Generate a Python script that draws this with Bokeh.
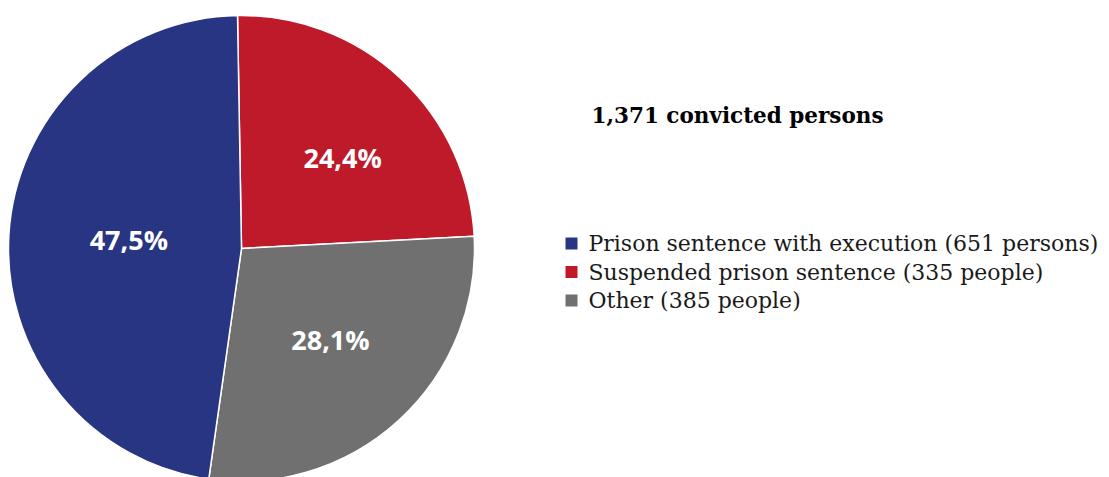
import numpy as np
from bokeh.plotting import figure
from bokeh.models import Range1d, ColumnDataSource
from bokeh.core.properties import value
from bokeh.embed import file_html
from bokeh.resources import INLINE

# ---- data ----
categories = ["Suspended prison sentence (335 people)",
              "Other (385 people)",
              "Prison sentence with execution (651 persons)"]
counts = [335, 385, 651]
pct_labels = ["24,4%", "28,1%", "47,5%"]
colors = ["#BE1A29", "#707070", "#283583"]
title_text = "1,371 convicted persons"

legend_order = [2, 0, 1]  # blue, red, gray

W, H = 1109, 477
p = figure(width=W, height=H, output_backend="svg", toolbar_location=None,
           x_range=Range1d(0, W), y_range=Range1d(0, H), min_border=0)
p.axis.visible = False
p.grid.visible = False
p.outline_line_color = None
p.background_fill_color = "white"

cx, cy, r = 241, H - 248, 233
start0 = np.deg2rad(90.98)
fr = np.array(counts, dtype=float) / sum(counts)
ang = 2 * np.pi * fr
ends_cum = np.cumsum(ang)
starts = start0 - np.concatenate([[0], ends_cum[:-1]])
ends = start0 - ends_cum

src = ColumnDataSource(dict(start=starts, end=ends, color=colors))
p.wedge(x=cx, y=cy, radius=r, start_angle="start", end_angle="end",
        direction="clock", fill_color="color", line_color="white",
        line_width=1.5, source=src)

# labels (best-fit placement: radius fraction + small angular nudge)
mid = (starts + ends) / 2 + np.deg2rad([-5.0, 2.0, -0.8])
label_r = np.array([0.584, 0.545, 0.485]) * r
lx = cx + label_r * np.cos(mid)
ly = cy + label_r * np.sin(mid)
p.text(x=lx, y=ly, text=pct_labels, text_color="white",
       text_font=value("Open Sans"), text_font_style="bold",
       text_font_size="27px", text_align="center", text_baseline="middle")

# title
p.text(x=[737], y=[H - 115], text=[title_text], text_color="#000000",
       text_font=value("DejaVu Serif"), text_font_style="bold",
       text_font_size="21.5px", text_align="center", text_baseline="middle")

# legend
ly0 = H - 243
step = 28.5
for i, idx in enumerate(legend_order):
    yy = ly0 - i * step
    p.scatter(x=[571], y=[yy], marker="square", size=12,
              fill_color=colors[idx], line_color=None)
    p.text(x=[588], y=[yy], text=[categories[idx]], text_color="#1a1a1a",
           text_font=value("DejaVu Serif"), text_font_size="22px",
           text_align="left", text_baseline="middle")

open("out.html", "w").write(file_html(p, INLINE))
